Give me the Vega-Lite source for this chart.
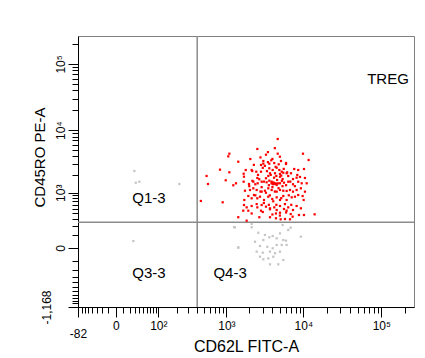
{
  "$schema": "https://vega.github.io/schema/vega-lite/v6.json",
  "width": 336,
  "height": 271,
  "autosize": "none",
  "padding": {"left": 78, "top": 36, "right": 11, "bottom": 51},
  "background": "white",
  "config": {
    "view": {"stroke": "#808080", "strokeWidth": 1},
    "font": "Liberation Sans"
  },
  "encoding": {
    "x": {
      "field": "x",
      "type": "quantitative",
      "scale": {"type": "symlog", "constant": 40, "domain": [-82, 262144], "nice": false},
      "axis": {
        "title": "CD62L FITC-A",
        "grid": false,
        "values": [-82,-70,-60,-50,-40,-30,-20,-10,0,10,20,30,40,50,60,70,80,90,100,200,300,400,500,600,700,800,900,1000,2000,3000,4000,5000,6000,7000,8000,9000,10000,20000,30000,40000,50000,60000,70000,80000,90000,100000,200000],
        "labelExpr": "datum.value == -82 ? '-82' : datum.value == 0 ? '0' : (datum.value > 99 && datum.value < 101) ? '10\u00b2' : datum.value == 1000 ? '10\u00b3' : datum.value == 10000 ? '10\u2074' : datum.value == 100000 ? '10\u2075' : ''",
        "labelOverlap": false,
        "labelFlush": false,
        "labelBound": false,
        "tickSize": {"condition": {"test": "datum.value==-82||datum.value==0||datum.value==100||datum.value==1000||datum.value==10000||datum.value==100000", "value": 10}, "value": 6},
        "labelPadding": {"condition": {"test": "datum.value==-82", "value": 11}, "value": 3},
        "domainColor": "#000000",
        "tickColor": "#000000",
        "labelColor": "#000000",
        "labelFont": "Liberation Sans",
        "labelFontSize": 12,
        "titleFont": "Liberation Sans",
        "titleFontSize": 16,
        "titleFontWeight": "normal",
        "titleColor": "#000000",
        "titleBaseline": "middle",
        "titleY": 39
      }
    },
    "y": {
      "field": "y",
      "type": "quantitative",
      "scale": {"type": "symlog", "constant": 175, "domain": [-1168, 262144], "nice": false},
      "axis": {
        "title": "CD45RO PE-A",
        "grid": false,
        "values": [-1168,-1000,-900,-800,-700,-600,-500,-400,-300,-200,-100,0,100,200,300,400,500,600,700,800,900,1000,2000,3000,4000,5000,6000,7000,8000,9000,10000,20000,30000,40000,50000,60000,70000,80000,90000,100000,200000],
        "labelExpr": "datum.value == -1168 ? '-1,168' : datum.value == 0 ? '0' : datum.value == 1000 ? '10\u00b3' : datum.value == 10000 ? '10\u2074' : datum.value == 100000 ? '10\u2075' : ''",
        "labelAngle": -90,
        "labelAlign": "center",
        "labelBaseline": "bottom",
        "labelOverlap": false,
        "labelFlush": false,
        "labelBound": false,
        "tickSize": {"condition": {"test": "datum.value==-1168||datum.value==0||datum.value==1000||datum.value==10000||datum.value==100000", "value": 10}, "value": 6},
        "labelPadding": {"condition": {"test": "datum.value==-1168", "value": 15}, "value": 1},
        "domainColor": "#000000",
        "tickColor": "#000000",
        "labelColor": "#000000",
        "labelFont": "Liberation Sans",
        "labelFontSize": 12,
        "titleFont": "Liberation Sans",
        "titleFontSize": 15,
        "titleFontWeight": "normal",
        "titleColor": "#000000",
        "titleAlign": "center",
        "titleBaseline": "middle",
        "titleX": -39,
        "titleY": 121
      }
    }
  },
  "layer": [
    {
      "data": {"values": [{"x": 400, "y": -1168, "y2": 262144}]},
      "mark": {"type": "rule", "color": "#8c8c8c", "strokeWidth": 1.5},
      "encoding": {"y2": {"field": "y2"}}
    },
    {
      "data": {"values": [{"x": -82, "x2": 262144, "y": 250}]},
      "mark": {"type": "rule", "color": "#8c8c8c", "strokeWidth": 1.5},
      "encoding": {"x2": {"field": "x2"}}
    },
    {
      "data": {"values": [
        {"x":4680,"y":7330,"g":"r"},{"x":2550,"y":5140,"g":"r"},{"x":1095,"y":4345,"g":"r"},{"x":4680,"y":4345,"g":"r"},{"x":9900,"y":4345,"g":"r"},{"x":3300,"y":4190,"g":"r"},{"x":1060,"y":3950,"g":"r"},{"x":2065,"y":3590,"g":"r"},
        {"x":1437,"y":3255,"g":"r"},{"x":3050,"y":3340,"g":"r"},{"x":3870,"y":3425,"g":"r"},{"x":5160,"y":3340,"g":"r"},{"x":11700,"y":3462,"g":"r"},
        {"x":2845,"y":2890,"g":"r"},{"x":3050,"y":3030,"g":"r"},{"x":3645,"y":3030,"g":"r"},{"x":4225,"y":3100,"g":"r"},{"x":4820,"y":2960,"g":"r"},{"x":5985,"y":2994,"g":"r"},
        {"x":822,"y":2430,"g":"r"},{"x":2150,"y":2400,"g":"r"},{"x":3645,"y":2560,"g":"r"},{"x":4030,"y":2400,"g":"r"},{"x":4540,"y":2610,"g":"r"},{"x":4910,"y":2400,"g":"r"},{"x":7640,"y":2490,"g":"r"},{"x":8600,"y":2400,"g":"r"},{"x":10200,"y":2490,"g":"r"},
        {"x":1095,"y":2205,"g":"r"},{"x":1690,"y":2090,"g":"r"},{"x":2190,"y":2310,"g":"r"},{"x":2470,"y":2255,"g":"r"},{"x":2845,"y":2255,"g":"r"},{"x":3720,"y":2125,"g":"r"},{"x":4320,"y":2125,"g":"r"},{"x":5010,"y":2069,"g":"r"},{"x":5270,"y":2255,"g":"r"},{"x":5525,"y":2170,"g":"r"},{"x":6100,"y":2125,"g":"r"},{"x":6940,"y":2125,"g":"r"},{"x":8370,"y":1995,"g":"r"},
        {"x":540,"y":1920,"g":"r"},{"x":1708,"y":1870,"g":"r"},{"x":2550,"y":1780,"g":"r"},{"x":3300,"y":1760,"g":"r"},{"x":3535,"y":1920,"g":"r"},{"x":4490,"y":1920,"g":"r"},{"x":5010,"y":1870,"g":"r"},{"x":5420,"y":1710,"g":"r"},{"x":6400,"y":1920,"g":"r"},{"x":7370,"y":1710,"g":"r"},{"x":9060,"y":1850,"g":"r"},{"x":10500,"y":1780,"g":"r"},
        {"x":565,"y":1414,"g":"r"},{"x":980,"y":1630,"g":"r"},{"x":1235,"y":1345,"g":"r"},{"x":1341,"y":1453,"g":"r"},{"x":1690,"y":1545,"g":"r"},{"x":1985,"y":1414,"g":"r"},{"x":2260,"y":1545,"g":"r"},{"x":2575,"y":1453,"g":"r"},{"x":2900,"y":1545,"g":"r"},{"x":3365,"y":1510,"g":"r"},{"x":3645,"y":1605,"g":"r"},{"x":3910,"y":1453,"g":"r"},{"x":3948,"y":1453,"g":"r"},{"x":4190,"y":1470,"g":"r"},{"x":4447,"y":1440,"g":"r"},{"x":4100,"y":1500,"g":"r"},{"x":4300,"y":1420,"g":"r"},{"x":4100,"y":1400,"g":"r"},{"x":4540,"y":1360,"g":"r"},{"x":5010,"y":1453,"g":"r"},{"x":5640,"y":1490,"g":"r"},{"x":6400,"y":1545,"g":"r"},{"x":7370,"y":1400,"g":"r"},{"x":8600,"y":1545,"g":"r"},{"x":9530,"y":1453,"g":"r"},{"x":11050,"y":1453,"g":"r"},
        {"x":1760,"y":1085,"g":"r"},{"x":2046,"y":1117,"g":"r"},{"x":2260,"y":1195,"g":"r"},{"x":2500,"y":1117,"g":"r"},{"x":2900,"y":1045,"g":"r"},{"x":3200,"y":1085,"g":"r"},{"x":3535,"y":1195,"g":"r"},{"x":3910,"y":1117,"g":"r"},{"x":4540,"y":1045,"g":"r"},{"x":5010,"y":1117,"g":"r"},{"x":5525,"y":1085,"g":"r"},{"x":6100,"y":1075,"g":"r"},{"x":6740,"y":1117,"g":"r"},{"x":7370,"y":1045,"g":"r"},{"x":8200,"y":1117,"g":"r"},{"x":9300,"y":1195,"g":"r"},{"x":10500,"y":1045,"g":"r"},
        {"x":450,"y":710,"g":"r"},{"x":893,"y":670,"g":"r"},{"x":1725,"y":740,"g":"r"},{"x":1945,"y":875,"g":"r"},{"x":2150,"y":795,"g":"r"},{"x":2307,"y":912,"g":"r"},{"x":2550,"y":795,"g":"r"},{"x":2761,"y":850,"g":"r"},{"x":3111,"y":740,"g":"r"},{"x":3535,"y":850,"g":"r"},{"x":3985,"y":772,"g":"r"},{"x":4540,"y":828,"g":"r"},{"x":5010,"y":740,"g":"r"},{"x":5525,"y":875,"g":"r"},{"x":6100,"y":740,"g":"r"},{"x":7090,"y":828,"g":"r"},{"x":7810,"y":850,"g":"r"},{"x":8600,"y":912,"g":"r"},{"x":9800,"y":875,"g":"r"},{"x":10100,"y":740,"g":"r"},
        {"x":1708,"y":595,"g":"r"},{"x":1850,"y":535,"g":"r"},{"x":2150,"y":569,"g":"r"},{"x":2550,"y":535,"g":"r"},{"x":2900,"y":595,"g":"r"},{"x":3300,"y":552,"g":"r"},{"x":3720,"y":512,"g":"r"},{"x":4225,"y":535,"g":"r"},{"x":4540,"y":473,"g":"r"},{"x":5010,"y":569,"g":"r"},{"x":5640,"y":496,"g":"r"},{"x":6400,"y":535,"g":"r"},{"x":7370,"y":473,"g":"r"},{"x":8200,"y":569,"g":"r"},{"x":9300,"y":512,"g":"r"},
        {"x":1670,"y":458,"g":"r"},{"x":1945,"y":458,"g":"r"},{"x":2150,"y":400,"g":"r"},{"x":2845,"y":458,"g":"r"},{"x":3720,"y":490,"g":"r"},{"x":4447,"y":400,"g":"r"},{"x":5010,"y":415,"g":"r"},{"x":6100,"y":458,"g":"r"},{"x":6880,"y":389,"g":"r"},{"x":8800,"y":370,"g":"r"},{"x":10200,"y":370,"g":"r"},{"x":13980,"y":383,"g":"r"},
        {"x":1437,"y":330,"g":"r"},{"x":1850,"y":273,"g":"r"},{"x":2705,"y":330,"g":"r"},{"x":3720,"y":330,"g":"r"},{"x":4447,"y":312,"g":"r"},{"x":5110,"y":295,"g":"r"},{"x":5810,"y":300,"g":"r"},{"x":6740,"y":295,"g":"r"},{"x":7290,"y":340,"g":"r"},
        {"x":3000,"y":2600,"g":"r"},{"x":3400,"y":2300,"g":"r"},{"x":3800,"y":2000,"g":"r"},{"x":4200,"y":1800,"g":"r"},{"x":2700,"y":1700,"g":"r"},{"x":3100,"y":1550,"g":"r"},{"x":3600,"y":1350,"g":"r"},{"x":4000,"y":1250,"g":"r"},{"x":4600,"y":1650,"g":"r"},{"x":5200,"y":1950,"g":"r"},{"x":2900,"y":1250,"g":"r"},{"x":3300,"y":1000,"g":"r"},{"x":3700,"y":900,"g":"r"},{"x":4300,"y":1050,"g":"r"},{"x":4800,"y":1200,"g":"r"},{"x":5400,"y":1300,"g":"r"},{"x":2400,"y":1400,"g":"r"},{"x":2600,"y":2000,"g":"r"},{"x":3200,"y":2800,"g":"r"},{"x":4400,"y":2700,"g":"r"},{"x":5600,"y":2500,"g":"r"},{"x":6200,"y":2200,"g":"r"},{"x":3500,"y":3200,"g":"r"},{"x":4000,"y":3600,"g":"r"},{"x":2800,"y":1050,"g":"r"},{"x":3900,"y":1550,"g":"r"},{"x":4700,"y":1450,"g":"r"},{"x":5300,"y":1600,"g":"r"},{"x":6000,"y":1350,"g":"r"},{"x":6800,"y":1550,"g":"r"},{"x":2200,"y":1600,"g":"r"},{"x":2400,"y":900,"g":"r"},{"x":3100,"y":650,"g":"r"},{"x":4100,"y":700,"g":"r"},{"x":5200,"y":800,"g":"r"},{"x":6500,"y":900,"g":"r"},{"x":3600,"y":600,"g":"r"},{"x":2500,"y":620,"g":"r"},{"x":4500,"y":600,"g":"r"},{"x":5800,"y":620,"g":"r"},{"x":3000,"y":430,"g":"r"},{"x":4000,"y":380,"g":"r"},{"x":5000,"y":360,"g":"r"},{"x":6000,"y":420,"g":"r"},{"x":7000,"y":600,"g":"r"},{"x":7800,"y":1300,"g":"r"},{"x":8200,"y":1800,"g":"r"},{"x":2000,"y":1300,"g":"r"},{"x":1800,"y":2400,"g":"r"},{"x":2300,"y":2900,"g":"r"},{"x":5000,"y":3900,"g":"r"},{"x":6000,"y":3100,"g":"r"},{"x":3500,"y":4600,"g":"r"},{"x":4300,"y":5300,"g":"r"},{"x":2800,"y":3800,"g":"r"},
        {"x":1300,"y":182,"g":"g"},{"x":2150,"y":225,"g":"g"},{"x":2150,"y":182,"g":"g"},{"x":2625,"y":121,"g":"g"},{"x":3645,"y":78,"g":"g"},{"x":4030,"y":89,"g":"g"},{"x":5420,"y":211,"g":"g"},{"x":6880,"y":177,"g":"g"},{"x":9300,"y":83,"g":"g"},{"x":1437,"y":3,"g":"g"},{"x":2380,"y":42,"g":"g"},{"x":2500,"y":-24,"g":"g"},{"x":2761,"y":-62,"g":"g"},{"x":3000,"y":-31,"g":"g"},{"x":3430,"y":7,"g":"g"},{"x":3720,"y":-24,"g":"g"},{"x":4030,"y":-2,"g":"g"},{"x":4320,"y":-35,"g":"g"},{"x":4540,"y":19,"g":"g"},{"x":5010,"y":-24,"g":"g"},{"x":5270,"y":19,"g":"g"},{"x":5525,"y":55,"g":"g"},{"x":5985,"y":50,"g":"g"},{"x":3720,"y":-133,"g":"g"},{"x":4760,"y":-133,"g":"g"},{"x":3050,"y":-84,"g":"g"},{"x":4100,"y":-62,"g":"g"},{"x":3535,"y":-76,"g":"g"},{"x":3200,"y":99,"g":"g"},{"x":4540,"y":69,"g":"g"},{"x":6100,"y":19,"g":"g"},{"x":2761,"y":12,"g":"g"},{"x":5010,"y":114,"g":"g"},{"x":5525,"y":-90,"g":"g"},{"x":6400,"y":150,"g":"g"},{"x":3050,"y":55,"g":"g"},{"x":1265,"y":182,"g":"g"},{"x":1437,"y":2,"g":"g"},
        {"x":29,"y":2315,"g":"g"},{"x":32,"y":1485,"g":"g"},{"x":40,"y":1545,"g":"g"},{"x":220,"y":1414,"g":"g"},{"x":27,"y":47,"g":"g"}
      ]},
      "mark": {"type": "point", "shape": "square", "filled": true, "size": 5, "opacity": 1},
      "encoding": {
        "color": {"field": "g", "type": "nominal", "scale": {"domain": ["r", "g"], "range": ["#ff0000", "#c4c4c4"]}, "legend": null}
      }
    },
    {
      "data": {"values": [
        {"x": 66, "y": 820, "t": "Q1-3"},
        {"x": 66, "y": -241, "t": "Q3-3"},
        {"x": 1119, "y": -241, "t": "Q4-3"},
        {"x": 121700, "y": 59400, "t": "TREG"}
      ]},
      "mark": {"type": "text", "font": "Liberation Sans", "fontSize": 15, "color": "#000000", "align": "center", "baseline": "middle"},
      "encoding": {"text": {"field": "t"}}
    }
  ]
}
